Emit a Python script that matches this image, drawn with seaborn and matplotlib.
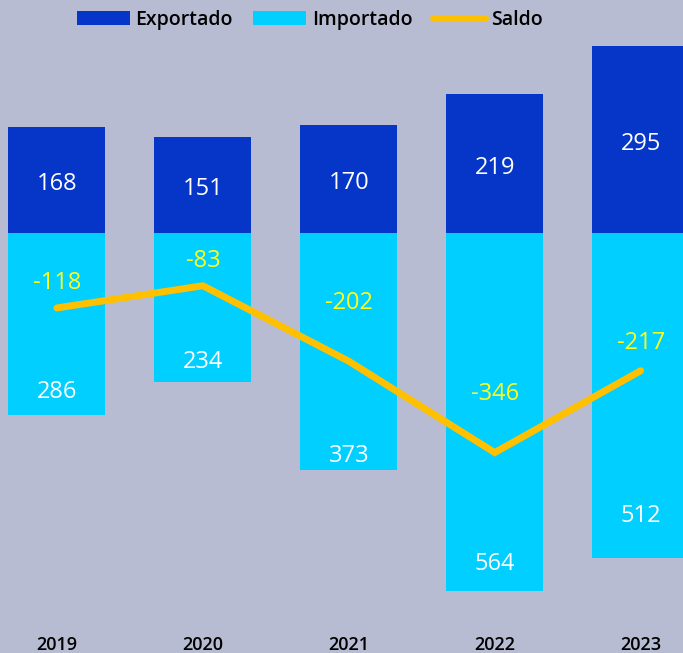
import matplotlib
matplotlib.use("Agg")
import matplotlib.pyplot as plt
import seaborn as sns
import numpy as np
import pandas as pd
from matplotlib.patches import Patch
from matplotlib.lines import Line2D

years = ["2019", "2020", "2021", "2022", "2023"]
exportado = [168, 151, 170, 219, 295]
importado = [286, 234, 373, 564, 512]
saldo = [-118, -83, -202, -346, -217]

# label offsets (points)
saldo_label_offset = [18, 18, 42, 42, 20]
imp_label_offset = [16.5, 14, 10, 19, 30]

BG = "#b8bcd2"
C_EXP = "#0636c8"
C_IMP = "#00cfff"
C_SAL = "#ffc000"
C_LBL = "#ffff1a"

sns.set_theme(style="white")
plt.rcParams["font.family"] = ["Open Sans", "DejaVu Sans"]

fig = plt.figure(figsize=(6.83, 6.53), dpi=100, facecolor=BG)
ax = fig.add_axes([0, 0.0505, 1, 0.9495])
ax.set_facecolor(BG)

df = pd.DataFrame({"year": years, "exp": exportado,
                   "imp": [-v for v in importado], "saldo": saldo})

sns.barplot(data=df, x="year", y="exp", color=C_EXP, width=0.665,
            saturation=1, linewidth=0, ax=ax)
sns.barplot(data=df, x="year", y="imp", color=C_IMP, width=0.665,
            saturation=1, linewidth=0, ax=ax)
df["pos"] = np.arange(len(years))
sns.lineplot(data=df, x="pos", y="saldo", color=C_SAL, linewidth=5,
             solid_capstyle="round", solid_joinstyle="miter", ax=ax)

ax.set_xlim(-0.39, 4.29)
ax.set_ylim(-610, 367.5)

for i, (e, im, s) in enumerate(zip(exportado, importado, saldo)):
    ax.annotate(str(e), (i, e / 2), xytext=(0, -3), textcoords="offset points",
                ha="center", va="center", color="white", fontsize=17)
    ax.annotate(str(im), (i, -im), xytext=(0, imp_label_offset[i]),
                textcoords="offset points",
                ha="center", va="center", color="white", fontsize=17)
    ax.annotate(str(s), (i, s), xytext=(0, saldo_label_offset[i]),
                textcoords="offset points", ha="center", va="center",
                color=C_LBL, fontsize=17)

ax.set_xlabel("")
ax.set_ylabel("")
ax.set_yticks([])
ax.tick_params(axis="x", length=0, pad=11.5, labelsize=13, labelcolor="black")
for lbl in ax.get_xticklabels():
    lbl.set_fontweight("semibold")
for sp in ax.spines.values():
    sp.set_visible(False)

handles = [Patch(facecolor=C_EXP, edgecolor="none", label="Exportado"),
           Patch(facecolor=C_IMP, edgecolor="none", label="Importado"),
           Line2D([0], [0], color=C_SAL, linewidth=5, solid_capstyle="round",
                  label="Saldo")]
leg = fig.legend(handles=handles, loc="upper center", ncol=3,
                 bbox_to_anchor=(0.454, 1.012), frameon=False,
                 prop={"size": 14, "weight": "semibold"}, labelcolor="black",
                 handlelength=2.7, handleheight=0.7, handletextpad=0.3,
                 columnspacing=1.05)

fig.savefig("out.png", dpi=100, facecolor=BG)
